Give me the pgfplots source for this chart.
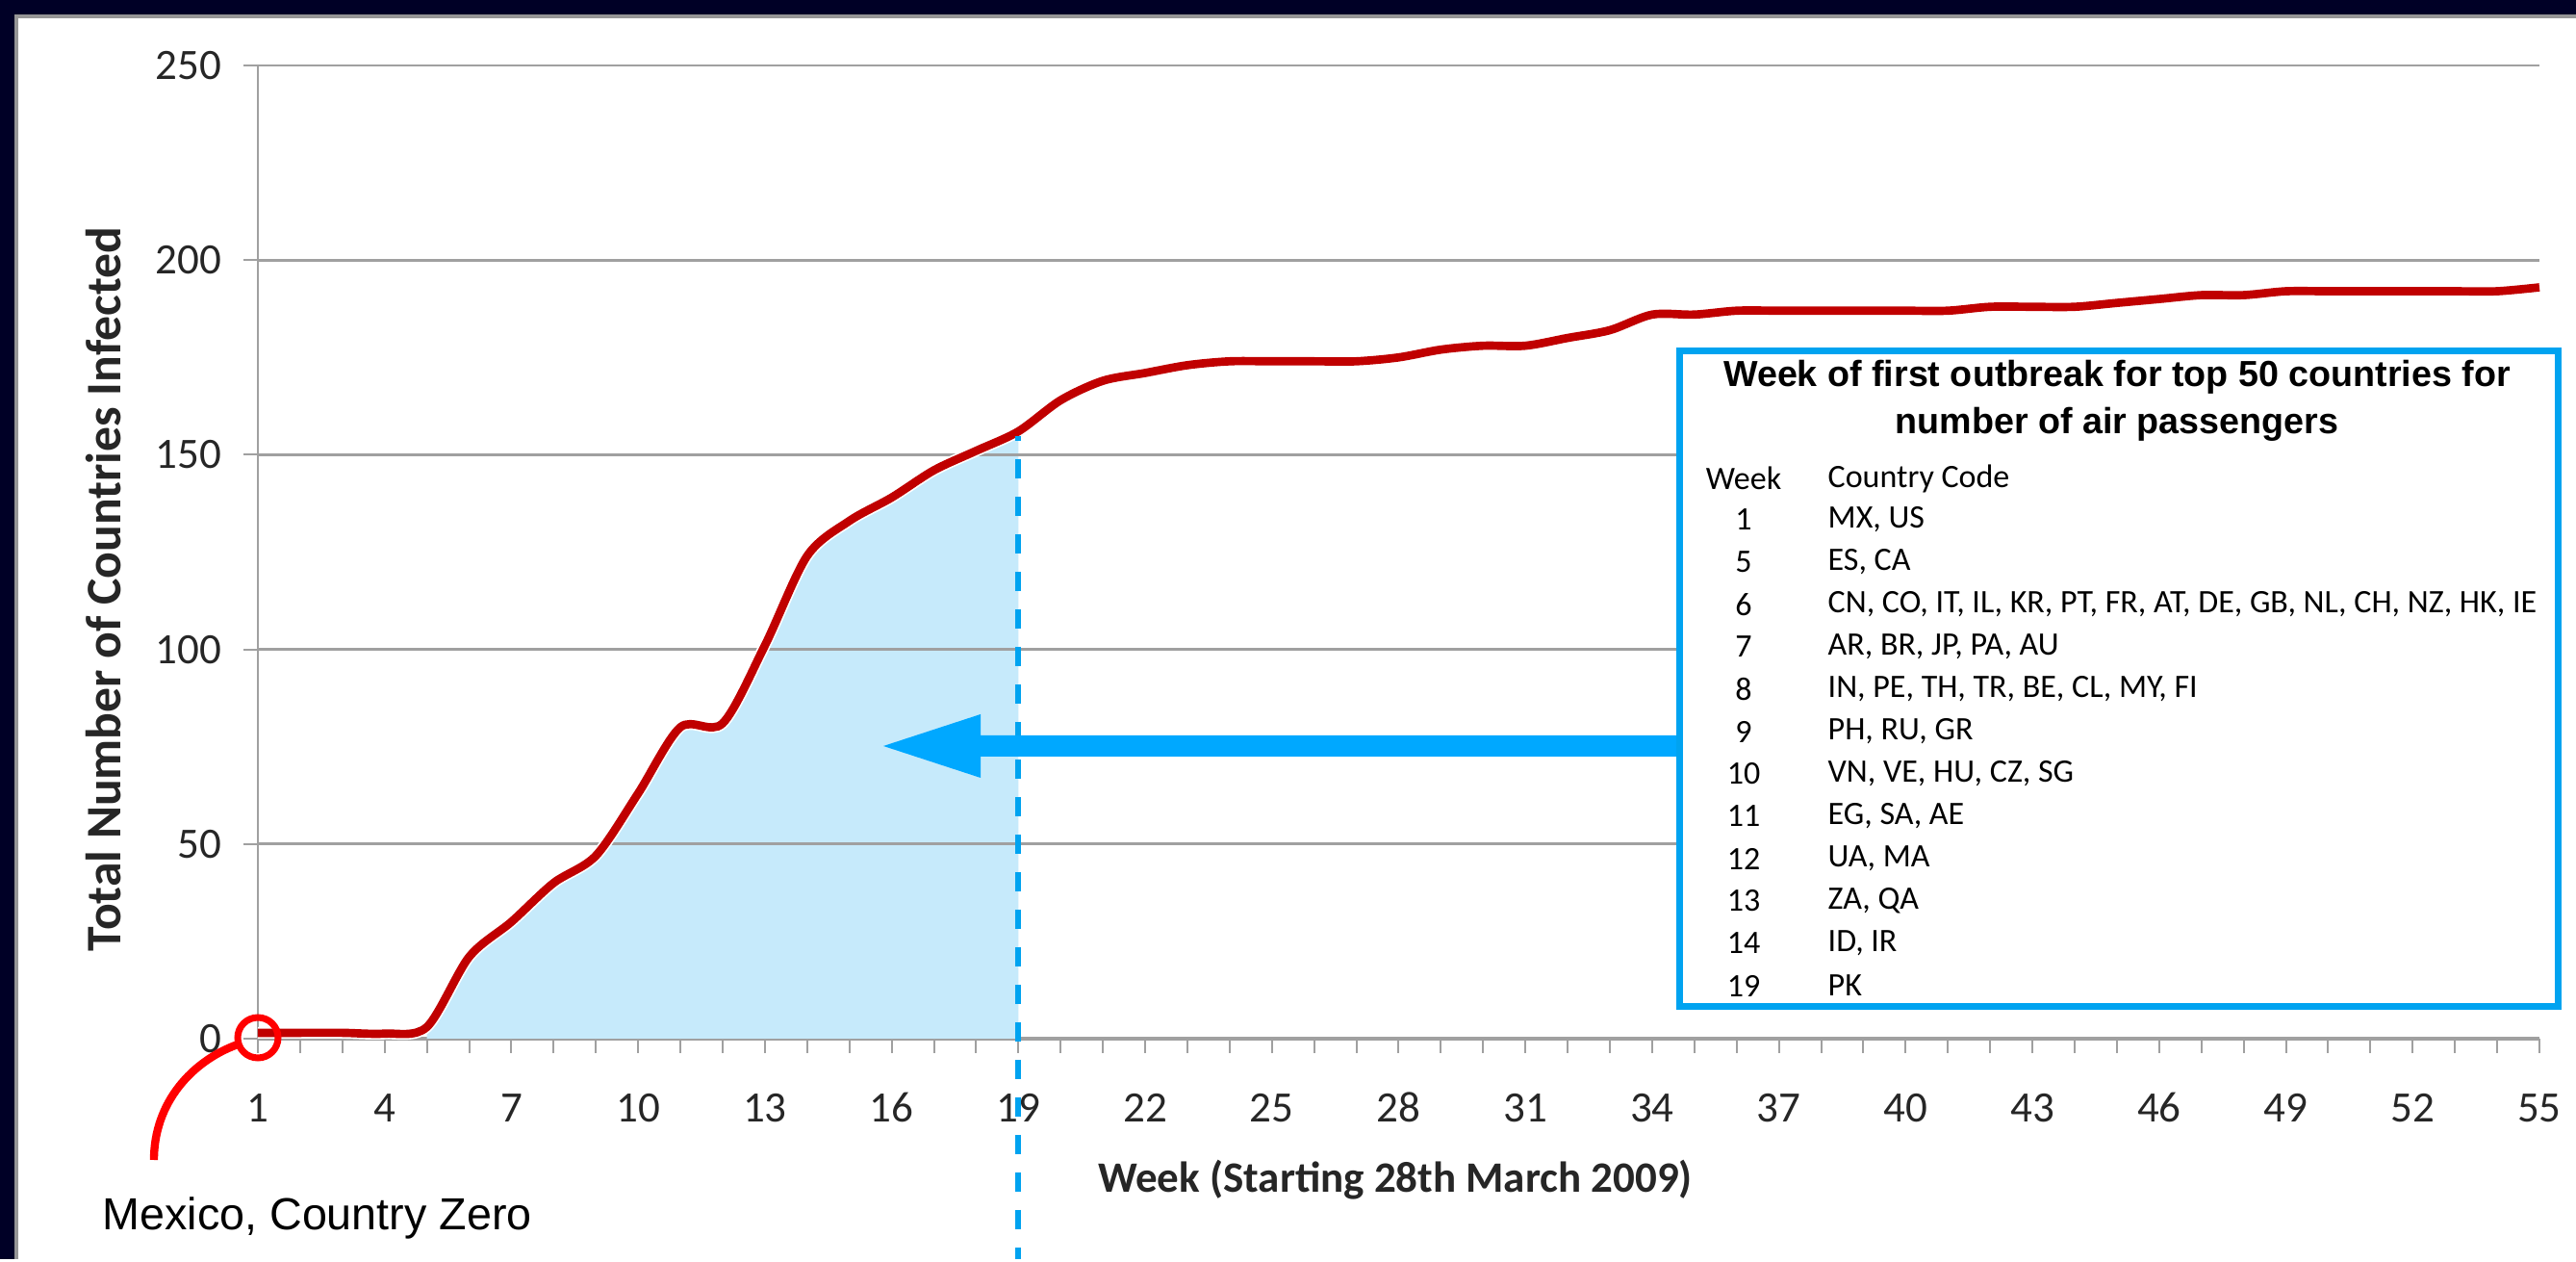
\documentclass[border=0pt]{standalone}
\usepackage{pgfplots}
\pgfplotsset{compat=1.18}
\usepackage{pgfplotstable}
\usepackage{fontspec}
\setmainfont{Carlito}
\newfontfamily\arialfont{Liberation Sans}
\definecolor{navy}{RGB}{0,0,38}
\definecolor{framegray}{RGB}{150,150,150}
\definecolor{gridgray}{RGB}{160,160,160}
\definecolor{curvered}{RGB}{192,0,0}
\definecolor{fillblue}{RGB}{198,234,251}
\definecolor{azure}{RGB}{0,163,240}
\definecolor{arrowblue}{RGB}{0,168,255}
\definecolor{pured}{RGB}{255,0,0}

\pgfplotstableread{
w v
1 1.5
2 1.5
3 1.5
4 1.3
5 3
6 21
7 30
8 40
9 47
10 63
11 80
12 81
13 101
14 124
15 133
16 139
17 146
18 151
19 156
20 164
21 169
22 171
23 173
24 174
25 174
26 174
27 174
28 175
29 177
30 178
31 178
32 180
33 182
34 186
35 186
36 187
37 187
38 187
39 187
40 187
41 187
42 188
43 188
44 188
45 189
46 190
47 191
48 191
49 192
50 192
51 192
52 192
53 192
54 192
55 193
}\datatable

\begin{document}
\begin{tikzpicture}
\begin{scope}[x=0.3pt,y=-0.3pt]
  \useasboundingbox (0,0) rectangle (2677,1308);
  \fill[navy] (0,0) rectangle (2677,1308);
  \fill[framegray] (15,15) rectangle (2677,1308);
  \fill[white] (19,19) rectangle (2677,1308);
\end{scope}

\begin{axis}[
  at={(80.4pt,-323.7pt)}, anchor=south west,
  scale only axis, width=711.3pt, height=303.3pt,
  xmin=1, xmax=55, ymin=0, ymax=250,
  clip=false,
  axis x line*=bottom, axis y line*=left,
  x axis line style={draw=gridgray, line width=1pt, -},
  y axis line style={draw=gridgray, line width=0.7pt, -},
  xtick={1,4,...,55}, minor xtick={1,...,55},
  ytick={0,50,...,250},
  tick align=outside,
  major tick length=4.5pt, minor tick length=4.5pt,
  tick style={draw=gridgray, line width=0.6pt},
  tick label style={font=\fontsize{13.5}{16}\selectfont, text=black!85},
  /pgf/number format/assume math mode=true,
  xticklabel style={yshift=-9.2pt, text height=8.6pt, text depth=0pt},
  yticklabel style={xshift=-3.3pt},
]
\begin{scope}
  \clip (axis cs:5,0) rectangle (axis cs:19,250);
  \addplot[fill=fillblue, draw=none, smooth] table[x=w,y=v]{\datatable} \closedcycle;
\end{scope}
\pgfplotsinvokeforeach{50,100,150,200,250}{
  \draw[gridgray, line width=0.8pt] (axis cs:1,#1) -- (axis cs:55,#1);
}
\addplot[white, line width=3.6pt, smooth] table[x=w,y=v]{\datatable};
\addplot[curvered, line width=2.6pt, smooth] table[x=w,y=v]{\datatable};
\end{axis}

\begin{scope}[x=0.3pt,y=-0.3pt]
  % axis labels
  \node[rotate=90, font=\bfseries\fontsize{15.5}{18}\selectfont, text=black!85] at (108,612) {Total Number of Countries Infected};
  \node[font=\bfseries\fontsize{13.5}{16}\selectfont, text=black!85] at (1450,1226) {Week (Starting 28th March 2009)};
  % dashed line at week 19
  \draw[azure, line width=1.7pt, dash pattern=on 6pt off 5.7pt, dash phase=4.5pt] (1058.3,453) -- (1058.3,1308);
  % arrow
  \fill[arrowblue] (918,775) -- (1019,742) -- (1019,764) -- (1750,764) -- (1750,786) -- (1019,786) -- (1019,808) -- cycle;
  % table box
  \draw[azure, line width=2.1pt, fill=white] (1745,365) rectangle (2658,1046);
  \node[font=\arialfont\bfseries\fontsize{11.3}{13}\selectfont] at (2200,392) {Week of first outbreak for top 50 countries for};
  \node[font=\arialfont\bfseries\fontsize{11.3}{13}\selectfont] at (2200,441) {number of air passengers};
  \node[font=\fontsize{10.2}{12}\selectfont] at (1812,497) {Week};
  \node[font=\fontsize{10.2}{12}\selectfont, anchor=west, inner sep=0pt] at (1899,497) {Country Code};
  \foreach \wk/\codes [count=\i from 0] in {
      1/{MX, US},
      5/{ES, CA},
      6/{CN, CO, IT, IL, KR, PT, FR, AT, DE, GB, NL, CH, NZ, HK, IE},
      7/{AR, BR, JP, PA, AU},
      8/{IN, PE, TH, TR, BE, CL, MY, FI},
      9/{PH, RU, GR},
      10/{VN, VE, HU, CZ, SG},
      11/{EG, SA, AE},
      12/{UA, MA},
      13/{ZA, QA},
      14/{ID, IR},
      19/{PK}} {
    \node[font=\fontsize{10.2}{12}\selectfont] at (1812,540+44*\i) {\wk};
    \node[font=\fontsize{10.2}{12}\selectfont, anchor=west, inner sep=0pt] at (1899,540+44*\i) {\codes};
  }
  % Mexico annotation
  \draw[pured, line width=2.1pt] (268,1078) circle[radius=6.3pt];
  \draw[pured, line width=2.5pt] (247,1085) .. controls (200,1102) and (160,1145) .. (160,1205);
  \node[font=\arialfont\fontsize{14}{16}\selectfont, anchor=west, inner sep=0pt] at (106,1265) {Mexico, Country Zero};
\end{scope}
\end{tikzpicture}
\end{document}
